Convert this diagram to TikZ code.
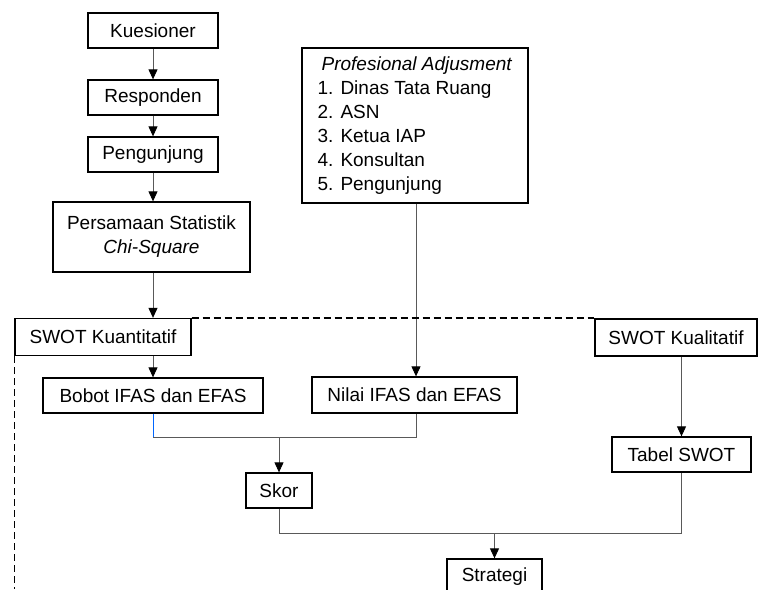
\documentclass[tikz,border=0pt]{standalone}
\usepackage{fontspec}
\setmainfont{Liberation Sans}
\usetikzlibrary{arrows.meta,calc}
\tikzset{
	kotak/.style={draw, line width=1.3pt, inner sep=2pt, minimum height=35pt, font=\fontsize{19}{24}\selectfont},
	garis/.style={line width=0.9pt, color=black!65},
	panah/.style={garis, -{Triangle[color=black, length=10pt, width=9pt]}},
	putus/.style={line width=1.4pt, dash pattern=on 7pt off 4pt}
}

\begin{document}
\begin{tikzpicture}[x=1pt, y=-1pt]
			%%%%% START %%%%%
			
			\useasboundingbox (0, 0) rectangle (759, 589);
			
			\node[kotak, minimum width=130pt] (kuesioner) at (153, 30.5) {Kuesioner};
			\node[kotak, minimum width=130pt] (responden) at (153, 97.5) {Responden};
			\node[kotak, minimum width=130pt] (pengunjung) at (153, 154.5) {Pengunjung};
			\node[kotak, minimum width=197pt, minimum height=70pt, align=center] (chisq) at (151.5, 237) {Persamaan Statistik\\\textit{Chi-Square}};
			
			\node[kotak, minimum width=226pt, minimum height=155pt, align=left] (profadj) at (415, 125.5) {\hspace{4pt}\textit{Profesional Adjusment}\\1. Dinas Tata Ruang\\2. ASN\\3. Ketua IAP\\4. Konsultan\\5. Pengunjung\hspace{47pt}};
			
			\node[kotak, minimum width=176pt, minimum height=37pt] (kuanti) at (103, 337) {SWOT Kuantitatif};
			\node[kotak, minimum width=162pt, minimum height=37pt] (kuali) at (676, 337.5) {SWOT Kualitatif};
			
			\node[kotak, minimum width=220pt] (bobot) at (153, 395.5) {Bobot IFAS dan EFAS};
			\node[kotak, minimum width=205pt, minimum height=36pt] (nilai) at (414.5, 395) {Nilai IFAS dan EFAS};
			\node[kotak, minimum width=66pt] (skor) at (279, 490.5) {Skor};
			\node[kotak, minimum width=139pt] (tabel) at (681.5, 454.5) {Tabel SWOT};
			\node[kotak, minimum width=95pt] (strategi) at (494.5, 576.5) {Strategi};
			
			\coordinate (j1) at (279, 437);
			\coordinate (j2) at (494.5, 533);
			\coordinate (bawah) at (kuanti.south west |- 0, 589);
			
			\draw[panah] (kuesioner) -- (responden);
			\draw[panah] (responden) -- (pengunjung);
			\draw[panah] (pengunjung.south) -- (pengunjung.south |- chisq.north);
			\draw[panah] (chisq.south -| bobot.north) -- (kuanti.north -| bobot.north);
			\draw[panah] (kuanti.south -| bobot.north) -- (bobot.north);
			\draw[panah] (profadj.south -| 416, 0) -- (nilai.north -| 416, 0);
			\draw[panah] (kuali.south -| tabel.north) -- (tabel.north);
			
			\draw[putus] (kuanti.north east) -- (kuanti.north east -| kuali.west);
			\draw[putus] (kuanti.south west) -- (bawah);
			
			\draw[line width=0.9pt, color=blue!60!cyan] (bobot.south) -- (bobot.south |- j1);
			\draw[garis] (bobot.south |- j1) -- (j1 -| 416, 0) -- (nilai.south -| 416, 0);
			\draw[panah] (j1) -- (skor.north);
			
			\draw[garis] (skor.south) -- (skor.south |- j2) -- (j2 -| tabel.south) -- (tabel.south);
			\draw[panah] (j2) -- (strategi.north);
			
			%%%%% END %%%%%
		\end{tikzpicture}
\end{document}
